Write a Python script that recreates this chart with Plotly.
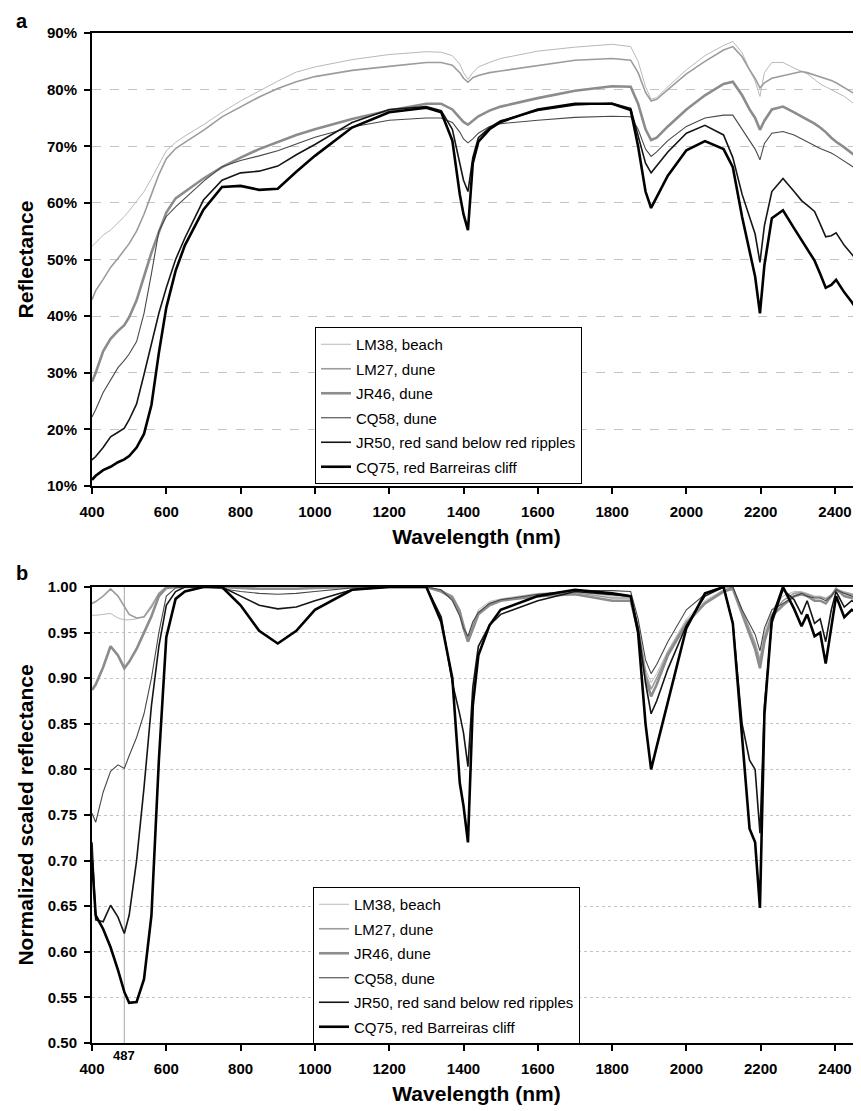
import plotly.graph_objects as go

# ---------------- data ----------------
WL = [400, 410, 430, 450, 470, 487, 500, 520, 540, 560, 580, 600,
      625, 650, 700, 750, 800, 850, 900, 950, 1000,
      1100, 1200, 1300, 1340, 1370, 1390, 1400, 1412, 1425, 1440, 1470, 1500,
      1600, 1700, 1800, 1850, 1870, 1890, 1905, 1920, 1950,
      2000, 2050, 2100, 2125, 2150, 2170, 2185, 2198, 2210, 2230, 2260,
      2290, 2310, 2325, 2345, 2360, 2375, 2390, 2403, 2425, 2445, 2470]

NAMES = ["LM38, beach", "LM27, dune", "JR46, dune", "CQ58, dune",
         "JR50, red sand below red ripples", "CQ75, red Barreiras cliff"]

# panel a: reflectance (%)
LM38_A = [52.3, 53.0, 54.3, 55.2, 56.4, 57.6, 58.6, 60.4, 62.0, 64.3, 66.8, 69.2,
          70.7, 71.8, 73.8, 76.0, 78.0, 79.8, 81.5, 83.1, 84.0,
          85.3, 86.2, 86.7, 86.6, 86.0, 84.5, 83.0, 81.8, 83.0, 84.0, 84.8, 85.5,
          86.8, 87.5, 88.0, 87.6, 85.0, 80.5, 78.3, 78.6, 80.5,
          83.5, 86.0, 87.8, 88.5, 86.5, 83.5, 81.5, 78.8, 83.0, 84.8, 84.8,
          83.8, 83.2, 82.8, 81.8, 81.0, 80.5, 80.0, 79.5, 78.8, 77.8, 76.8]
LM27_A = [42.9, 44.5, 46.5, 48.6, 50.2, 51.6, 52.8, 55.0, 58.0, 61.5, 65.0, 67.8,
          69.6, 70.7, 72.8, 75.2, 77.0, 78.7, 80.2, 81.4, 82.3,
          83.4, 84.1, 84.8, 84.8, 84.3, 83.0, 82.0, 81.3, 82.1, 82.5, 83.0, 83.3,
          84.3, 85.2, 85.5, 85.2, 83.0, 79.5, 78.0, 78.3, 80.0,
          82.8, 85.0, 87.0, 87.6, 85.8, 83.5, 82.0, 80.3, 81.2, 82.0, 82.5,
          83.0, 83.2, 83.0, 82.6, 82.2, 81.9, 81.6, 81.2, 80.3, 79.5, 78.6]
JR46_A = [28.4, 30.0, 33.8, 36.0, 37.4, 38.4, 39.8, 42.8, 47.0, 51.2, 54.8, 58.3,
          60.8, 62.0, 64.3, 66.3, 68.0, 69.5, 70.8, 72.0, 73.0,
          74.8, 76.3, 77.5, 77.5, 76.5, 75.0, 74.3, 73.8, 74.5, 75.3, 76.3, 77.0,
          78.5, 79.8, 80.6, 80.5, 77.5, 73.0, 71.1, 71.5, 73.5,
          76.5, 79.0, 81.0, 81.4, 79.0, 76.5, 75.0, 72.9, 74.5, 76.5, 77.0,
          76.0, 75.3, 74.8, 74.0, 73.3, 72.5, 71.5, 70.8, 69.8, 68.8, 67.5]
CQ58_A = [22.2, 23.5, 26.5, 28.6, 30.9, 32.2, 33.3, 35.5, 40.5, 47.5, 55.0, 57.6,
          59.3, 60.8, 63.8, 66.4, 67.5, 68.3, 69.2, 70.4, 71.6,
          73.4, 74.6, 75.0, 75.0, 74.2, 72.5, 71.3, 70.6, 71.3, 72.3, 73.5, 74.0,
          74.6, 75.1, 75.3, 75.2, 73.0, 69.5, 68.2, 69.0, 71.0,
          73.5, 75.0, 75.5, 75.5, 73.0, 71.0, 69.5, 67.6, 70.5, 72.3, 72.6,
          72.0, 71.3, 70.7, 70.0, 69.6, 69.2, 68.8, 68.3, 67.3, 66.5, 65.6]
JR50_A = [14.6, 15.2, 16.8, 18.7, 19.5, 20.2, 21.7, 24.5, 29.7, 35.0, 40.5, 45.0,
          50.0, 53.8, 60.5, 64.0, 65.3, 65.6, 66.5, 68.5, 70.3,
          74.2, 76.5, 77.0, 76.3, 73.0, 67.0, 64.0, 62.0, 68.0, 71.5, 73.3, 74.5,
          76.3, 77.3, 77.6, 76.7, 72.0, 67.0, 65.3, 66.5, 69.0,
          72.3, 73.7, 72.0, 68.0, 61.5, 57.5, 54.5, 49.5, 56.0, 62.0, 64.3,
          62.0, 60.4, 59.6, 58.5, 56.3, 54.0, 54.2, 54.7, 52.5, 51.0, 49.0]
CQ75_A = [11.1, 11.8, 12.8, 13.4, 14.2, 14.7, 15.3, 16.8, 19.2, 24.3, 33.5, 41.5,
          48.0, 52.5, 58.8, 62.8, 63.0, 62.3, 62.5, 65.5, 68.3,
          73.3, 76.0, 76.8, 76.0, 71.0, 61.5, 58.0, 55.2, 67.0, 70.8, 73.0, 74.3,
          76.5, 77.5, 77.5, 76.4, 70.0, 62.0, 59.1, 61.0, 64.8,
          69.3, 70.9, 69.5, 66.3, 57.5, 51.5, 47.0, 40.5, 49.0, 57.3, 58.7,
          55.5, 53.5, 52.0, 49.8, 47.5, 45.0, 45.5, 46.4, 44.2, 42.5, 40.0]

# panel b: normalized scaled reflectance
LM38_B = [0.969, 0.969, 0.970, 0.971, 0.966, 0.964, 0.964, 0.965, 0.968, 0.980, 0.993, 0.999,
          1.0, 1.0, 1.0, 1.0, 0.999, 0.998, 0.998, 0.998, 0.999,
          1.0, 1.0, 1.0, 0.996, 0.990, 0.975, 0.958, 0.944, 0.960, 0.975, 0.984, 0.987,
          0.993, 0.995, 0.990, 0.990, 0.960, 0.910, 0.895, 0.905, 0.930,
          0.965, 0.985, 0.997, 1.0, 0.975, 0.955, 0.940, 0.922, 0.950, 0.975, 0.990,
          0.995, 0.995, 0.993, 0.990, 0.990, 0.988, 0.992, 0.998, 0.995, 0.993, 0.990]
LM27_B = [0.982, 0.984, 0.990, 0.998, 0.990, 0.978, 0.970, 0.966, 0.967, 0.978, 0.993, 1.0,
          1.0, 1.0, 1.0, 1.0, 0.999, 0.998, 0.998, 0.998, 0.999,
          1.0, 1.0, 1.0, 0.996, 0.990, 0.975, 0.960, 0.942, 0.958, 0.972, 0.982, 0.986,
          0.992, 0.994, 0.988, 0.988, 0.955, 0.905, 0.888, 0.900, 0.928,
          0.962, 0.983, 0.996, 1.0, 0.973, 0.952, 0.937, 0.918, 0.945, 0.970, 0.985,
          0.993, 0.994, 0.992, 0.989, 0.989, 0.987, 0.991, 0.997, 0.994, 0.992, 0.989]
JR46_B = [0.887, 0.893, 0.912, 0.935, 0.925, 0.911, 0.918, 0.932, 0.950, 0.968, 0.990, 0.999,
          1.0, 1.0, 1.0, 1.0, 0.999, 0.998, 0.998, 0.998, 0.999,
          1.0, 1.0, 1.0, 0.995, 0.988, 0.972, 0.955, 0.940, 0.955, 0.970, 0.980, 0.985,
          0.990, 0.992, 0.985, 0.985, 0.952, 0.900, 0.880, 0.893, 0.925,
          0.960, 0.982, 0.995, 0.998, 0.970, 0.950, 0.932, 0.911, 0.940, 0.968, 0.980,
          0.990, 0.992, 0.990, 0.985, 0.985, 0.982, 0.990, 0.998, 0.990, 0.988, 0.985]
CQ58_B = [0.752, 0.742, 0.775, 0.798, 0.805, 0.801, 0.815, 0.835, 0.861, 0.900, 0.950, 0.990,
          0.999, 1.0, 1.0, 0.998, 0.995, 0.993, 0.992, 0.993, 0.995,
          0.999, 1.0, 1.0, 0.997, 0.985, 0.968, 0.955, 0.946, 0.962, 0.972, 0.982, 0.986,
          0.992, 0.996, 0.996, 0.995, 0.965, 0.920, 0.905, 0.915, 0.940,
          0.975, 0.992, 1.0, 1.0, 0.975, 0.960, 0.948, 0.930, 0.955, 0.975, 0.982,
          0.990, 0.993, 0.990, 0.988, 0.988, 0.985, 0.990, 0.997, 0.993, 0.990, 0.988]
JR50_B = [0.720, 0.635, 0.633, 0.651, 0.638, 0.620, 0.640, 0.700, 0.780, 0.870, 0.935, 0.980,
          0.995, 1.0, 1.0, 1.0, 0.990, 0.980, 0.976, 0.978, 0.985,
          0.997, 1.0, 1.0, 0.967, 0.895, 0.860, 0.840, 0.803, 0.890, 0.935, 0.958, 0.970,
          0.985, 0.995, 0.992, 0.990, 0.955, 0.895, 0.861, 0.875, 0.910,
          0.958, 0.990, 1.0, 0.960, 0.850, 0.810, 0.800, 0.730, 0.870, 0.960, 0.997,
          0.986, 0.970, 0.985, 0.960, 0.965, 0.940, 0.975, 0.995, 0.978, 0.985, 0.980]
CQ75_B = [0.700, 0.640, 0.625, 0.605, 0.580, 0.556, 0.544, 0.545, 0.570, 0.640, 0.810, 0.945,
          0.987, 0.995, 1.0, 1.0, 0.980, 0.952, 0.938, 0.952, 0.975,
          0.997, 1.0, 1.0, 0.962, 0.900, 0.785, 0.760, 0.720, 0.870, 0.925, 0.958, 0.975,
          0.990, 0.997, 0.993, 0.990, 0.950, 0.850, 0.800, 0.825, 0.875,
          0.955, 0.993, 1.0, 0.960, 0.840, 0.735, 0.720, 0.648, 0.860, 0.965, 1.0,
          0.976, 0.957, 0.970, 0.946, 0.950, 0.916, 0.955, 0.990, 0.967, 0.975, 0.970]

MARK_WL = 487
X_TICKS = list(range(400, 2401, 200))

# ---------------- style ----------------
COLORS = ["#b9b9b9", "#9c9c9c", "#8c8c8c", "#484848", "#151515", "#000000"]
WIDTHS = [1.0, 1.6, 2.6, 1.1, 1.6, 2.6]
FONT = "Liberation Sans, Arial, sans-serif"
OFF = 8                      # page body margin
W, H = 861 - OFF, 1111 - OFF


def fx(p):
    return (p - OFF) / W


def fy(p):
    return 1 - (p - OFF) / H


fig = go.Figure()
A_SERIES = [LM38_A, LM27_A, JR46_A, CQ58_A, JR50_A, CQ75_A]
B_SERIES = [LM38_B, LM27_B, JR46_B, CQ58_B, JR50_B, CQ75_B]

for i, (name, ys) in enumerate(zip(NAMES, A_SERIES)):
    fig.add_trace(go.Scatter(x=WL, y=ys, name=name, mode="lines",
                             line=dict(color=COLORS[i], width=WIDTHS[i]),
                             xaxis="x", yaxis="y", legend="legend",
                             legendgroup="a%d" % i))
for i, (name, ys) in enumerate(zip(NAMES, B_SERIES)):
    fig.add_trace(go.Scatter(x=WL, y=ys, name=name, mode="lines",
                             line=dict(color=COLORS[i], width=WIDTHS[i]),
                             xaxis="x2", yaxis="y2", legend="legend2",
                             legendgroup="b%d" % i))

tickfont = dict(family=FONT, size=15, color="black", weight="bold")
xtitlefont = dict(family=FONT, size=21, color="black", weight="bold")
ytitlefont = dict(family=FONT, size=21, color="black", weight="bold")

xcommon = dict(range=[400, 2470], tickvals=X_TICKS, ticks="outside", ticklen=6,
               tickwidth=1.5, tickcolor="black", showline=True, linecolor="black",
               linewidth=2, mirror=True, showgrid=False, zeroline=False,
               tickfont=tickfont, automargin=False, ticklabelstandoff=5)
ycommon = dict(ticks="outside", ticklen=6, tickwidth=1.5, tickcolor="black",
               showline=True, linecolor="black", linewidth=2, showgrid=True,
               gridcolor="#c4c4c4", gridwidth=1, zeroline=False,
               tickfont=tickfont, automargin=False, ticklabelstandoff=4)

legend_common = dict(xanchor="left", yanchor="top", bgcolor="white",
                     bordercolor="black", borderwidth=1, itemwidth=30,
                     font=dict(family=FONT, size=15, color="black"),
                     traceorder="grouped", tracegroupgap=2)

fig.update_layout(
    width=W, height=H, autosize=False,
    margin=dict(l=0, r=0, t=0, b=0),
    paper_bgcolor="white", plot_bgcolor="white",
    font=dict(family=FONT, color="black"),
    xaxis=dict(domain=[fx(92), 1.0], anchor="y",
               title=dict(text="Wavelength (nm)", font=xtitlefont, standoff=10),
               **xcommon),
    yaxis=dict(domain=[fy(486), fy(33)], anchor="x", range=[10, 90], dtick=10,
               ticksuffix="%", griddash="dash",
               title=dict(text="Reflectance", font=ytitlefont, standoff=8),
               **ycommon),
    xaxis2=dict(domain=[fx(92), 1.0], anchor="y2",
                title=dict(text="Wavelength (nm)", font=xtitlefont, standoff=10),
                **xcommon),
    yaxis2=dict(domain=[fy(1043), fy(587)], anchor="x2", range=[0.5, 1.0],
                dtick=0.05, tickformat=".2f", griddash="dot",
                title=dict(text="Normalized scaled reflectance", font=ytitlefont,
                           standoff=8),
                **ycommon),
    legend=dict(x=fx(315), y=fy(327), **legend_common),
    legend2=dict(x=fx(313), y=fy(887), **legend_common),
    showlegend=True,
)

fig.add_shape(type="line", xref="x2", yref="y2", x0=MARK_WL, x1=MARK_WL,
              y0=0.5, y1=1.0, line=dict(color="#a8a8a8", width=1), layer="below")

fig.add_annotation(text="a", xref="paper", yref="paper", x=fx(14), y=fy(8),
                   yanchor="top", showarrow=False,
                   font=dict(family=FONT, size=20, weight="bold"))
fig.add_annotation(text="b", xref="paper", yref="paper", x=fx(14), y=fy(560),
                   yanchor="top", showarrow=False,
                   font=dict(family=FONT, size=20, weight="bold"))
fig.add_annotation(text=str(MARK_WL), xref="x2", yref="paper", x=MARK_WL,
                   y=fy(1046), yanchor="top",
                   showarrow=False, font=dict(family=FONT, size=13, weight="bold"))

fig.write_html("out.html")
